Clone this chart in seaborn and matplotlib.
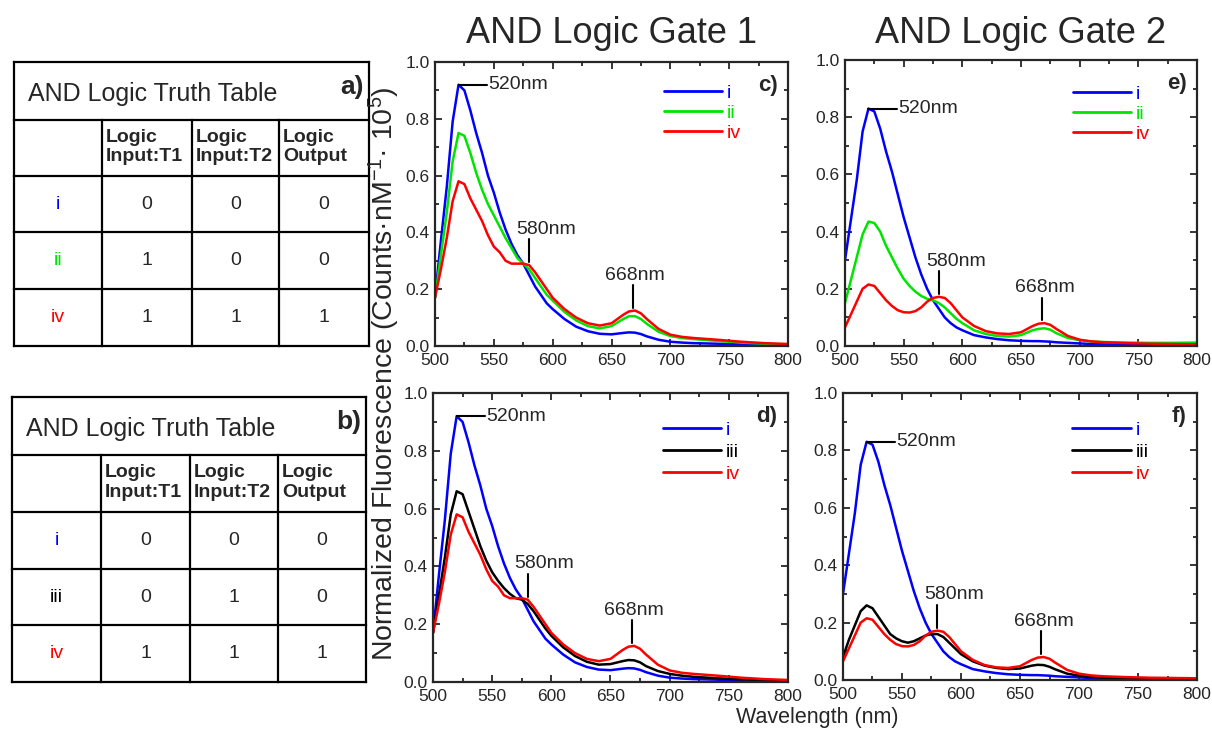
import numpy as np
import pandas as pd
import matplotlib
matplotlib.use("Agg")
import matplotlib.pyplot as plt
import seaborn as sns
from matplotlib.ticker import MultipleLocator

# ---------------- data ----------------
wavelength = [500, 505, 510, 515, 520, 525, 530, 535, 540, 545, 550, 555, 560, 565, 570,
              575, 580, 585, 590, 595, 600, 610, 620, 630, 640, 650, 660, 665, 670, 675,
              680, 690, 700, 710, 720, 740, 760, 780, 800]

# Gate 1 (panels c, d)
g1_i = [0.17, 0.37, 0.56, 0.79, 0.92, 0.90, 0.83, 0.75, 0.68, 0.60, 0.54, 0.47, 0.41, 0.36, 0.32,
        0.29, 0.25, 0.21, 0.18, 0.15, 0.13, 0.095, 0.068, 0.052, 0.043, 0.041, 0.046, 0.048, 0.047, 0.042,
        0.034, 0.022, 0.015, 0.012, 0.010, 0.008, 0.006, 0.004, 0.003]
g1_ii = [0.17, 0.32, 0.47, 0.65, 0.75, 0.74, 0.68, 0.61, 0.55, 0.50, 0.46, 0.42, 0.38, 0.345, 0.31,
         0.29, 0.27, 0.24, 0.21, 0.18, 0.16, 0.12, 0.09, 0.07, 0.062, 0.07, 0.095, 0.105, 0.105, 0.095,
         0.078, 0.05, 0.035, 0.028, 0.024, 0.018, 0.012, 0.008, 0.006]
g1_iii = [0.17, 0.30, 0.43, 0.58, 0.66, 0.65, 0.59, 0.53, 0.47, 0.42, 0.38, 0.35, 0.325, 0.305, 0.29,
          0.285, 0.27, 0.245, 0.215, 0.185, 0.16, 0.12, 0.09, 0.07, 0.06, 0.062, 0.072, 0.076, 0.075, 0.068,
          0.055, 0.038, 0.028, 0.022, 0.018, 0.013, 0.009, 0.006, 0.004]
g1_iv = [0.17, 0.27, 0.38, 0.51, 0.58, 0.57, 0.52, 0.48, 0.44, 0.39, 0.35, 0.33, 0.30, 0.29, 0.29,
         0.29, 0.285, 0.26, 0.23, 0.20, 0.17, 0.13, 0.10, 0.08, 0.072, 0.08, 0.11, 0.122, 0.125, 0.115,
         0.095, 0.06, 0.04, 0.032, 0.028, 0.022, 0.015, 0.010, 0.007]

# Gate 2 (panels e, f)
g2_i = [0.30, 0.44, 0.58, 0.75, 0.83, 0.82, 0.76, 0.68, 0.61, 0.53, 0.45, 0.38, 0.31, 0.25, 0.20,
        0.16, 0.13, 0.10, 0.08, 0.065, 0.055, 0.038, 0.03, 0.024, 0.02, 0.018, 0.017, 0.017, 0.016, 0.015,
        0.013, 0.011, 0.009, 0.007, 0.006, 0.005, 0.004, 0.003, 0.003]
g2_ii = [0.15, 0.23, 0.31, 0.39, 0.435, 0.43, 0.40, 0.35, 0.31, 0.27, 0.235, 0.21, 0.19, 0.175, 0.165,
         0.16, 0.15, 0.135, 0.115, 0.095, 0.08, 0.055, 0.042, 0.035, 0.033, 0.038, 0.055, 0.06, 0.062, 0.057,
         0.045, 0.028, 0.02, 0.016, 0.014, 0.012, 0.011, 0.011, 0.012]
g2_iii = [0.08, 0.14, 0.19, 0.24, 0.26, 0.25, 0.22, 0.19, 0.16, 0.145, 0.135, 0.13, 0.135, 0.145, 0.155,
          0.16, 0.16, 0.15, 0.13, 0.11, 0.09, 0.065, 0.05, 0.042, 0.038, 0.04, 0.05, 0.053, 0.052, 0.046,
          0.037, 0.022, 0.015, 0.010, 0.008, 0.006, 0.004, 0.003, 0.003]
g2_iv = [0.065, 0.11, 0.155, 0.20, 0.215, 0.21, 0.185, 0.16, 0.14, 0.125, 0.118, 0.117, 0.122, 0.135, 0.155,
         0.168, 0.172, 0.168, 0.15, 0.125, 0.10, 0.07, 0.052, 0.044, 0.042, 0.048, 0.07, 0.078, 0.08, 0.074,
         0.06, 0.035, 0.022, 0.016, 0.013, 0.010, 0.008, 0.007, 0.006]

peak_labels = [520, 580, 668]

x_ticks = [500, 550, 600, 650, 700, 750, 800]
y_ticks = [0.0, 0.2, 0.4, 0.6, 0.8, 1.0]

table_title = "AND Logic Truth Table"
table_headers = ["Logic\nInput:T1", "Logic\nInput:T2", "Logic\nOutput"]
table_a_rows = ["i", "ii", "iv"]
table_a_vals = [[0, 0, 0], [1, 0, 0], [1, 1, 1]]
table_b_rows = ["i", "iii", "iv"]
table_b_vals = [[0, 0, 0], [0, 1, 0], [1, 1, 1]]

gate_titles = ["AND Logic Gate 1", "AND Logic Gate 2"]

COLORS = {"i": "#0000FF", "ii": "#00E400", "iii": "#000000", "iv": "#FF0000"}

# ---------------- style ----------------
sns.set_style("ticks")
plt.rcParams['font.family'] = ['Liberation Sans', 'DejaVu Sans']
plt.rcParams['mathtext.fontset'] = 'custom'
plt.rcParams['mathtext.rm'] = 'Liberation Sans'
plt.rcParams['mathtext.it'] = 'Liberation Sans:italic'
plt.rcParams['mathtext.bf'] = 'Liberation Sans:bold'
plt.rcParams['axes.linewidth'] = 1.5

W, H = 1212, 735
fig = plt.figure(figsize=(W / 100, H / 100), dpi=100)


def px_axes(left, top, right, bottom):
    return fig.add_axes([left / W, 1 - bottom / H, (right - left) / W, (bottom - top) / H])


panels = [
    dict(box=(435, 62, 788, 346), series={"i": g1_i, "ii": g1_ii, "iv": g1_iv}, tag="c)",
         leg_top=0.955, leg_sp=0.12),
    dict(box=(845, 60, 1197, 346), series={"i": g2_i, "ii": g2_ii, "iv": g2_iv}, tag="e)",
         leg_top=0.945, leg_sp=0.12),
    dict(box=(433, 393, 788, 682), series={"i": g1_i, "iii": g1_iii, "iv": g1_iv}, tag="d)",
         leg_top=0.935, leg_sp=0.22),
    dict(box=(843, 393, 1197, 680), series={"i": g2_i, "iii": g2_iii, "iv": g2_iv}, tag="f)",
         leg_top=0.935, leg_sp=0.22),
]

axes = []
for p in panels:
    ax = px_axes(*p["box"])
    axes.append(ax)
    names = list(p["series"].keys())
    df = pd.concat([pd.DataFrame({"wl": wavelength, "val": p["series"][n], "s": n}) for n in names],
                   ignore_index=True)
    sns.lineplot(data=df, x="wl", y="val", hue="s", hue_order=names,
                 palette={n: COLORS[n] for n in names}, linewidth=1.8, ax=ax, legend=True)
    ax.set_xlim(500, 800)
    ax.set_ylim(0, 1.0)
    ax.set_xticks(x_ticks)
    ax.set_yticks(y_ticks)
    ax.xaxis.set_minor_locator(MultipleLocator(25))
    ax.yaxis.set_minor_locator(MultipleLocator(0.1))
    ax.set_xticklabels([str(t) for t in x_ticks])
    ax.set_yticklabels([f"{t:.1f}" for t in y_ticks])
    ax.tick_params(which="both", direction="in", top=True, right=True, width=1.3,
                   labelsize=12.5)
    ax.tick_params(axis="x", pad=5)
    ax.tick_params(axis="y", pad=4)
    ax.tick_params(which="major", length=5)
    ax.tick_params(which="minor", length=3)
    ax.set_xlabel("")
    ax.set_ylabel("")
    for sp in ax.spines.values():
        sp.set_linewidth(1.6)

    leg = ax.legend(loc="upper left", bbox_to_anchor=(0.62, p["leg_top"]), frameon=False,
                    handlelength=3.0, handletextpad=0.25, labelspacing=p["leg_sp"],
                    borderpad=0, fontsize=14)
    for txt, ln in zip(leg.get_texts(), leg.get_lines()):
        txt.set_color(ln.get_color())
        ln.set_linewidth(2.0)

    ax.text(0.97, 0.955, p["tag"], transform=ax.transAxes, ha="right", va="top",
            fontsize=16, fontweight="bold")

    # peak annotations derived from data
    first = np.array(p["series"][names[0]])
    last = np.array(p["series"][names[-1]])
    wl = np.array(wavelength)
    y520 = first.max()
    x520 = wl[first.argmax()]
    ax.plot([x520, x520 + 24], [y520, y520], color="black", lw=1.5)
    ax.text(x520 + 25, y520, f"{peak_labels[0]}nm", ha="left", va="center", fontsize=14)
    for k, wpk in enumerate(peak_labels[1:]):
        yv = np.interp(wpk, wl, last) + 0.01
        ax.plot([wpk, wpk], [yv, yv + 0.08], color="black", lw=1.5)
        if k == 0:
            ax.text(wpk - 11, yv + 0.085, f"{wpk}nm", ha="left", va="bottom", fontsize=14)
        else:
            ax.text(wpk + 2, yv + 0.085, f"{wpk}nm", ha="center", va="bottom", fontsize=14)

# gate titles
for ax, t in zip(axes[:2], gate_titles):
    bb = ax.get_position()
    fig.text((bb.x0 + bb.x1) / 2, 1 - 43 / H, t, ha="center", va="baseline", fontsize=26)

fig.text(817 / W, 1 - 718 / H, "Wavelength (nm)", ha="center", va="center", fontsize=15.5)
fig.text(384 / W, 1 - 374 / H, "Normalized Fluorescence (Counts·nM$^{-1}$· 10$^{5}$)",
         ha="center", va="center", rotation=90, fontsize=20.5)

# ---------------- truth tables ----------------
tab = fig.add_axes([0, 0, 1, 1], zorder=-1)
tab.set_xlim(0, W)
tab.set_ylim(H, 0)
tab.axis("off")


def draw_table(xe, ye, tag, row_names, vals):
    lw = 1.6
    for y in ye:
        tab.plot([xe[0], xe[-1]], [y, y], color="black", lw=lw, solid_capstyle="projecting")
    for i, x in enumerate(xe):
        y0 = ye[0] if i in (0, len(xe) - 1) else ye[1]
        tab.plot([x, x], [y0, ye[-1]], color="black", lw=lw, solid_capstyle="projecting")
    tab.text(xe[0] + 14, (ye[0] + ye[1]) / 2 + 3, table_title, ha="left", va="center", fontsize=18)
    tab.text(xe[-1] - 5, ye[0] + 25, tag, ha="right", va="center", fontsize=19, fontweight="bold")
    for j, h in enumerate(table_headers):
        tab.text(xe[j + 1] + 4, (ye[1] + ye[2]) / 2 - 1, h, ha="left", va="center",
                 fontsize=14, fontweight="bold", linespacing=1.2)
    for r, (rn, rv) in enumerate(zip(row_names, vals)):
        yc = (ye[r + 2] + ye[r + 3]) / 2
        tab.text((xe[0] + xe[1]) / 2, yc, rn, ha="center", va="center", fontsize=14, color=COLORS[rn])
        for j, v in enumerate(rv):
            tab.text((xe[j + 1] + xe[j + 2]) / 2, yc, str(v), ha="center", va="center", fontsize=14)


draw_table([14, 102, 192, 279, 369], [62, 120, 176, 232, 289, 346], "a)", table_a_rows, table_a_vals)
draw_table([12, 101, 190, 278, 366], [397, 455, 512, 569, 625, 682], "b)", table_b_rows, table_b_vals)

fig.savefig("out.png", dpi=100)
